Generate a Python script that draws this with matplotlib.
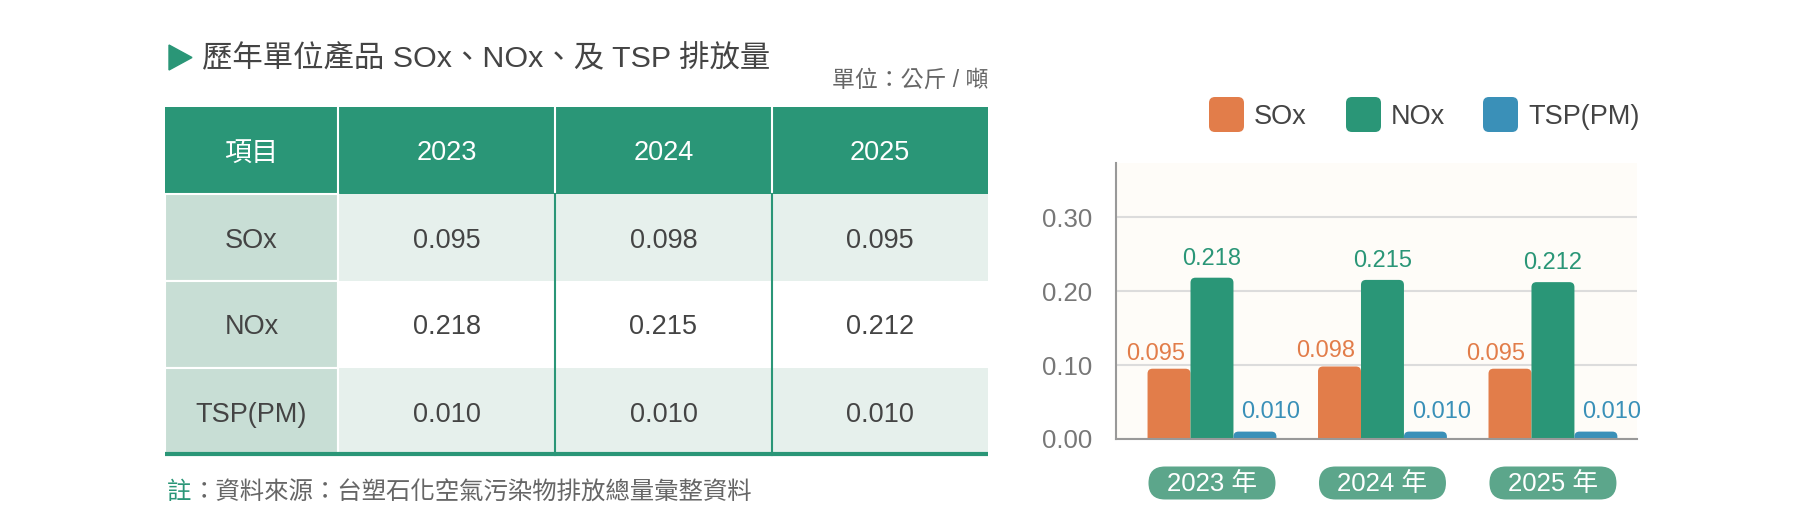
import matplotlib
matplotlib.use('Agg')
import matplotlib.pyplot as plt
from matplotlib.patches import FancyBboxPatch, Rectangle, Polygon

# 글꼴: 라틴 문자는 Liberation Sans, 한자는 Noto Sans CJK TC 로 대체
plt.rcParams['font.family'] = ['Liberation Sans', 'Noto Sans CJK TC']
plt.rcParams['axes.unicode_minus'] = False

# 데이터
title = '歷年單位產品 SOx、NOx、及 TSP 排放量'
unit_text = '單位：公斤 / 噸'
note_head = '註'
note_body = '：資料來源：台塑石化空氣污染物排放總量彙整資料'
header_first = '項目'
years = ['2023', '2024', '2025']
items = ['SOx', 'NOx', 'TSP(PM)']
sox = [0.095, 0.098, 0.095]
nox = [0.218, 0.215, 0.212]
tsp = [0.010, 0.010, 0.010]
series = [sox, nox, tsp]
yticks = [0.00, 0.10, 0.20, 0.30]

# 색상
GREEN = '#2a9677'
colors = ['#e27d4a', '#2a9677', '#3a90b8']
PILL = '#5ca68b'
TXT = '#444444'

fig = plt.figure(figsize=(18, 5.28), dpi=100)

# 전체 배경용 축 (픽셀 좌표, y 아래 방향)
bg = fig.add_axes([0, 0, 1, 1])
bg.set_xlim(0, 1800)
bg.set_ylim(528, 0)
bg.axis('off')

# 제목
bg.add_patch(Polygon([(169, 45), (169, 70), (192, 57.5)], closed=True, color=GREEN))
bg.text(202, 59, title, fontsize=21.9, color=TXT, va='center', ha='left')
bg.text(988, 80, unit_text, fontsize=16.5, color='#666666', va='center', ha='right')

# 표
col_edges = [165, 338, 555, 772, 988]
row_edges = [107, 194, 281, 368, 455]
dy = 3  # 글자 세로 보정

bg.add_patch(Rectangle((col_edges[0], row_edges[0]), col_edges[-1] - col_edges[0],
                       row_edges[1] - row_edges[0], color=GREEN, lw=0))
headers = [header_first] + years
for j, h in enumerate(headers):
    cx = (col_edges[j] + col_edges[j + 1]) / 2
    bg.text(cx, (row_edges[0] + row_edges[1]) / 2 + dy, h, fontsize=19.5, color='white',
            ha='center', va='center')
    if j > 0:
        bg.plot([col_edges[j]] * 2, [row_edges[0], row_edges[1]], color='white', lw=1.5)

for i, name in enumerate(items):
    y0, y1 = row_edges[i + 1], row_edges[i + 2]
    cy = (y0 + y1) / 2 + dy
    fill = '#e6f0ec' if i % 2 == 0 else 'white'
    bg.add_patch(Rectangle((col_edges[1], y0), col_edges[-1] - col_edges[1], y1 - y0,
                           color=fill, lw=0))
    bg.add_patch(Rectangle((col_edges[0], y0), col_edges[1] - col_edges[0], y1 - y0,
                           fc='#c8ded5', ec='white', lw=1.5))
    bg.text((col_edges[0] + col_edges[1]) / 2, cy, name, fontsize=19.5, color=TXT,
            ha='center', va='center')
    for j, v in enumerate(series[i]):
        cx = (col_edges[j + 1] + col_edges[j + 2]) / 2
        bg.text(cx, cy, f'{v:.3f}', fontsize=19.5, color=TXT, ha='center', va='center')

bg.plot([col_edges[1]] * 2, [row_edges[1], row_edges[-1]], color='white', lw=1.5)
for x in col_edges[2:4]:
    bg.plot([x, x], [row_edges[1], row_edges[-1]], color=GREEN, lw=1.5)
bg.plot([col_edges[0], col_edges[-1]], [454, 454], color=GREEN, lw=3, solid_capstyle='butt')

# 주석
bg.text(167, 493, note_head, fontsize=17.6, color=GREEN, va='center', ha='left')
bg.text(192, 493, note_body, fontsize=17.6, color='#666666', va='center', ha='left')

# 범례
leg_x = [1209, 1346, 1483]
for k, name in enumerate(items):
    bg.add_patch(FancyBboxPatch((leg_x[k], 97), 35, 35,
                                boxstyle='round,pad=0,rounding_size=6',
                                fc=colors[k], ec='none'))
    bg.text(leg_x[k] + 45, 117, name, fontsize=19.5, color=TXT, va='center', ha='left')

# 막대그래프
ax = fig.add_axes([1116 / 1800, 1 - 439 / 528, (1637 - 1116) / 1800, (439 - 163) / 528])
ax.set_facecolor('#fefcf8')
ax.set_xlim(-0.563, 2.493)
ax.set_ylim(0, 0.373)

w = 0.252
offsets = [-w, 0, w]
label_dx = [-10, 0, 11.5]
label_dy = [3, 5.5, 6]
xs = list(range(len(years)))

px_x = 521 / (2.493 + 0.563)   # x 1단위 픽셀
px_y = 276 / 0.373             # y 1단위 픽셀
r = 5 / px_x

for k, vals in enumerate(series):
    bars = ax.bar([x + offsets[k] for x in xs], vals, width=w, color=colors[k])
    for b, v in zip(bars, vals):
        b.set_visible(False)
        ax.add_patch(FancyBboxPatch((b.get_x(), -0.01), b.get_width(), b.get_height() + 0.01,
                                    boxstyle=f'round,pad=0,rounding_size={r}',
                                    mutation_aspect=px_x / px_y,
                                    fc=colors[k], ec='none', zorder=2))
        ax.annotate(f'{v:.3f}', (b.get_x() + b.get_width() / 2, v),
                    xytext=(label_dx[k], label_dy[k]), textcoords='offset points',
                    ha='center', va='bottom', fontsize=17, color=colors[k])

ax.set_yticks(yticks)
ax.set_yticklabels([f'{t:.2f}' for t in yticks])
ax.set_xticks([])
ax.tick_params(axis='y', length=0, pad=17, labelsize=18.5, labelcolor='#777777')
ax.yaxis.grid(True, color='#dcdcdc', lw=1.5)
ax.set_axisbelow(True)
for s in ['top', 'right']:
    ax.spines[s].set_visible(False)
for s in ['left', 'bottom']:
    ax.spines[s].set_color('#999999')
    ax.spines[s].set_linewidth(1.5)

# 연도 라벨 (알약 모양)
for i, yr in enumerate(years):
    cx = ax.transData.transform((xs[i], 0))[0]
    bg.add_patch(FancyBboxPatch((cx - 63.5, 466.5), 127, 33,
                                boxstyle='round,pad=0,rounding_size=16.5',
                                fc=PILL, ec='none'))
    bg.text(cx, 484, f'{yr} 年', fontsize=18.5, color='white', ha='center', va='center')

fig.savefig('out.png', dpi=100)
